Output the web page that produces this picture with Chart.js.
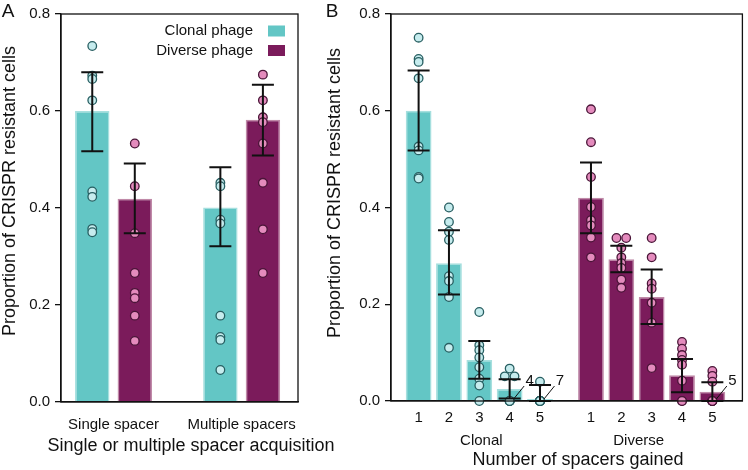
<!DOCTYPE html>
<html>
<head>
<meta charset="utf-8">
<script src="https://cdn.jsdelivr.net/npm/chart.js@4.4.1/dist/chart.umd.min.js"></script>
<style>
    body { margin: 0; background: #fff; }
    #wrap { position: relative; width: 748px; height: 470px; }
    canvas { position: absolute; top: 0; }
    #chartA { left: 0; }
    #chartB { left: 322px; }
</style>
</head>
<body>
<div id="wrap">
    <canvas id="chartA" width="350" height="470"></canvas>
    <canvas id="chartB" width="426" height="470"></canvas>
</div>
<script>
// ---- 面板 A 数据 ----
const acquisitionTypes = ['Single spacer', 'Multiple spacers']
const clonalMeanA = [0.600, 0.401]
const diverseMeanA = [0.419, 0.582]
const clonalLowA = [0.517, 0.321]
const clonalHighA = [0.680, 0.484]
const diverseLowA = [0.348, 0.508]
const diverseHighA = [0.492, 0.654]
const clonalPointsA = [
    [0.734, 0.673, 0.666, 0.622, 0.434, 0.423, 0.357, 0.350],
    [0.452, 0.445, 0.376, 0.368, 0.178, 0.134, 0.128, 0.066]
]
const diversePointsA = [
    [0.533, 0.445, 0.348, 0.266, 0.225, 0.214, 0.178, 0.126],
    [0.675, 0.622, 0.587, 0.577, 0.533, 0.452, 0.356, 0.266]
]

// ---- 面板 B 数据 ----
const spacerCounts = ['1', '2', '3', '4', '5']
const phageGroups = ['Clonal', 'Diverse']
const clonalMeanB = [0.600, 0.285, 0.085, 0.025, 0.004]
const diverseMeanB = [0.420, 0.293, 0.215, 0.053, 0.019]
const clonalLowB = [0.518, 0.220, 0.046, 0.005, 0.0]
const clonalHighB = [0.683, 0.353, 0.124, 0.045, 0.033]
const diverseLowB = [0.347, 0.266, 0.159, 0.018, 0.0]
const diverseHighB = [0.493, 0.321, 0.272, 0.087, 0.039]
const clonalPointsB = [
    [0.751, 0.707, 0.701, 0.667, 0.526, 0.518, 0.463, 0.460],
    [0.400, 0.370, 0.350, 0.333, 0.258, 0.248, 0.215, 0.110],
    [0.184, 0.115, 0.105, 0.090, 0.070, 0.046, 0.032, 0.0],
    [0.067, 0.051, 0.051, 0, 0, 0, 0],
    [0.040, 0, 0, 0, 0, 0, 0, 0]
]
const diversePointsB = [
    [0.603, 0.535, 0.463, 0.401, 0.374, 0.363, 0.338, 0.297],
    [0.337, 0.337, 0.317, 0.297, 0.285, 0.275, 0.251, 0.234],
    [0.337, 0.297, 0.243, 0.232, 0.203, 0.162, 0.068],
    [0.122, 0.108, 0.095, 0.085, 0.075, 0.042, 0, 0],
    [0.062, 0.052, 0.040, 0, 0, 0, 0, 0]
]

// ---- 样式 ----
const FONT = '"Liberation Sans", Arial, sans-serif'
const TEAL = '#63c6c5'
const TEAL_EDGE = '#a6dfde'
const PLUM = '#7b1b5b'
const PLUM_EDGE = '#c08aa8'
const CLONAL_DOT = '#c6ecee'
const CLONAL_DOT_EDGE = '#285f62'
const DIVERSE_DOT = '#e48bbd'
const DIVERSE_DOT_EDGE = '#4a1538'
const INK = '#111'

Chart.defaults.font.family = FONT
Chart.defaults.color = INK

// 相同的非零值左右错开一点
function pointData(points, xs, dodge) {
    const out = []
    points.forEach((vals, i) => {
        const counts = {}
        vals.forEach(v => { counts[v] = (counts[v] || 0) + 1 })
        const used = {}
        vals.forEach(v => {
            const c = counts[v]
            let off = 0
            if (v > 0 && c > 1) {
                const k = used[v] || 0
                used[v] = k + 1
                off = (k - (c - 1) / 2) * 2 * dodge
            }
            out.push({ x: xs[i] + off, y: v })
        })
    })
    return out
}

function drawErrorBars(chart, sets) {
    const ctx = chart.ctx
    const xs = chart.scales.x, ys = chart.scales.y
    ctx.save()
    ctx.strokeStyle = INK
    ctx.lineWidth = 2
    sets.forEach(s => {
        s.xs.forEach((xv, i) => {
            const px = xs.getPixelForValue(xv)
            const lo = ys.getPixelForValue(s.low[i])
            const hi = ys.getPixelForValue(s.high[i])
            ctx.beginPath()
            ctx.moveTo(px, lo); ctx.lineTo(px, hi)
            ctx.moveTo(px - 11, lo); ctx.lineTo(px + 11, lo)
            ctx.moveTo(px - 11, hi); ctx.lineTo(px + 11, hi)
            ctx.stroke()
        })
    })
    ctx.restore()
}

function drawFrame(ctx, a) {
    ctx.save()
    ctx.strokeStyle = INK
    ctx.lineWidth = 1.3
    ctx.strokeRect(a.left, a.top, a.right - a.left, a.bottom - a.top)
    ctx.restore()
}

function drawText(ctx, text, x, y, size, align, rotate) {
    ctx.save()
    ctx.fillStyle = INK
    ctx.font = size + 'px ' + FONT
    ctx.textAlign = align || 'center'
    ctx.textBaseline = 'middle'
    ctx.translate(x, y)
    if (rotate) ctx.rotate(-Math.PI / 2)
    ctx.fillText(text, 0, 0)
    ctx.restore()
}

function yAxis(width) {
    return {
        min: 0, max: 0.8,
        afterFit: s => { s.width = width },
        ticks: { stepSize: 0.2, font: { size: 15 }, padding: 5, callback: v => v.toFixed(1) },
        grid: { drawOnChartArea: false, drawTicks: true, tickLength: 6, color: INK, lineWidth: 1.3 },
        border: { display: true, color: INK, width: 1.3 }
    }
}

function xAxis(min, max, tickXs, labelOf, height, pad) {
    return {
        type: 'linear', min: min, max: max, offset: false,
        afterBuildTicks: s => { s.ticks = tickXs.map(v => ({ value: v })) },
        afterFit: s => { s.height = height },
        ticks: { font: { size: 15 }, padding: pad, autoSkip: false, maxRotation: 0, callback: (v, i) => labelOf(i) },
        grid: { display: false, drawTicks: false, offset: false },
        border: { display: true, color: INK, width: 1.3 }
    }
}

function barSet(label, means, xs, fill, edge, pct) {
    return {
        type: 'bar', label: label,
        data: means.map((v, i) => ({ x: xs[i], y: v })),
        backgroundColor: fill, borderColor: edge, borderWidth: 1.5,
        barPercentage: pct, categoryPercentage: 1, grouped: false, order: 3
    }
}

function dotSet(label, pts, fill, edge) {
    return {
        type: 'scatter', label: label, data: pts,
        backgroundColor: fill, borderColor: edge, borderWidth: 1.3,
        pointRadius: 4.3, pointHoverRadius: 4.3, clip: false, order: 1
    }
}

const commonOpts = {
    responsive: false,
    animation: false,
    events: [],
    plugins: { legend: { display: false }, tooltip: { enabled: false } }
}

// ---- 面板 A ----
const groupXA = acquisitionTypes.map((_, i) => i)
const clonalXA = groupXA.map(v => v - 0.166)
const diverseXA = groupXA.map(v => v + 0.166)

new Chart(document.getElementById('chartA'), {
    type: 'bar',
    data: {
        datasets: [
            dotSet('Clonal points', pointData(clonalPointsA, clonalXA, 0.04), CLONAL_DOT, CLONAL_DOT_EDGE),
            dotSet('Diverse points', pointData(diversePointsA, diverseXA, 0.04), DIVERSE_DOT, DIVERSE_DOT_EDGE),
            barSet('Clonal phage', clonalMeanA, clonalXA, TEAL, TEAL_EDGE, 0.81),
            barSet('Diverse phage', diverseMeanA, diverseXA, PLUM, PLUM_EDGE, 0.81)
        ]
    },
    options: {
        ...commonOpts,
        layout: { padding: { left: 0, right: 52, top: 12, bottom: 0 } },
        scales: {
            x: xAxis(-0.41, 1.44, groupXA, i => acquisitionTypes[i], 68, 14),
            y: yAxis(61)
        }
    },
    plugins: [{
        id: 'decorA',
        afterDatasetsDraw(chart) {
            drawErrorBars(chart, [
                { xs: clonalXA, low: clonalLowA, high: clonalHighA },
                { xs: diverseXA, low: diverseLowA, high: diverseHighA }
            ])
        },
        afterDraw(chart) {
            const ctx = chart.ctx, a = chart.chartArea
            drawFrame(ctx, a)
            drawText(ctx, 'A', 8, 12, 19)
            drawText(ctx, 'Proportion of CRISPR resistant cells', 10, 191, 18, 'center', true)
            drawText(ctx, 'Single or multiple spacer acquisition', 191, 446, 18)
            // 图例
            const items = [['Clonal phage', TEAL], ['Diverse phage', PLUM]]
            items.forEach((it, i) => {
                const cy = a.top + 17 + i * 19.5
                drawText(ctx, it[0], a.right - 45, cy, 15, 'right')
                ctx.fillStyle = it[1]
                ctx.fillRect(a.right - 30, cy - 5.5, 17, 11)
            })
        }
    }]
})

// ---- 面板 B ----
const groupGap = 0.68
const clonalXB = spacerCounts.map((_, i) => i)
const diverseXB = spacerCounts.map((_, i) => i + spacerCounts.length + groupGap)
const tickXB = clonalXB.concat(diverseXB)

new Chart(document.getElementById('chartB'), {
    type: 'bar',
    data: {
        datasets: [
            dotSet('Clonal points', pointData(clonalPointsB, clonalXB, 0.16), CLONAL_DOT, CLONAL_DOT_EDGE),
            dotSet('Diverse points', pointData(diversePointsB, diverseXB, 0.16), DIVERSE_DOT, DIVERSE_DOT_EDGE),
            barSet('Clonal', clonalMeanB, clonalXB, TEAL, TEAL_EDGE, 0.85),
            barSet('Diverse', diverseMeanB, diverseXB, PLUM, PLUM_EDGE, 0.85)
        ]
    },
    options: {
        ...commonOpts,
        layout: { padding: { left: 0, right: 3, top: 12, bottom: 0 } },
        scales: {
            x: xAxis(-0.91, 10.67, tickXB, i => spacerCounts[i % spacerCounts.length], 69, 8),
            y: yAxis(69)
        }
    },
    plugins: [{
        id: 'decorB',
        afterDatasetsDraw(chart) {
            drawErrorBars(chart, [
                { xs: clonalXB, low: clonalLowB, high: clonalHighB },
                { xs: diverseXB, low: diverseLowB, high: diverseHighB }
            ])
        },
        afterDraw(chart) {
            const ctx = chart.ctx, a = chart.chartArea
            const xs = chart.scales.x, ys = chart.scales.y
            drawFrame(ctx, a)
            drawText(ctx, 'B', 10, 12, 19)
            drawText(ctx, 'Proportion of CRISPR resistant cells', 13, 193, 18, 'center', true)
            drawText(ctx, 'Number of spacers gained', 256, 460, 18)

            // 分组名称
            const mid = (spacerCounts.length - 1) / 2
            drawText(ctx, phageGroups[0], xs.getPixelForValue(clonalXB[0] + mid) + 2, 441, 15)
            drawText(ctx, phageGroups[1], xs.getPixelForValue(diverseXB[0] + mid) - 13, 441, 15)

            // 零值个数标注
            const y0 = ys.getPixelForValue(0)
            const marks = [[clonalPointsB, clonalXB], [diversePointsB, diverseXB]]
            ctx.save()
            ctx.strokeStyle = INK
            ctx.lineWidth = 1
            marks.forEach(m => {
                m[0].forEach((vals, i) => {
                    const zeros = vals.filter(v => v === 0).length
                    if (zeros < 3) return
                    const px = xs.getPixelForValue(m[1][i])
                    ctx.beginPath()
                    ctx.moveTo(px + 4, y0 - 2)
                    ctx.lineTo(px + 14.5, y0 - 15)
                    ctx.stroke()
                    drawText(ctx, String(zeros), px + 20, y0 - 20, 15)
                })
            })
            ctx.restore()
        }
    }]
})
</script>
</body>
</html>
